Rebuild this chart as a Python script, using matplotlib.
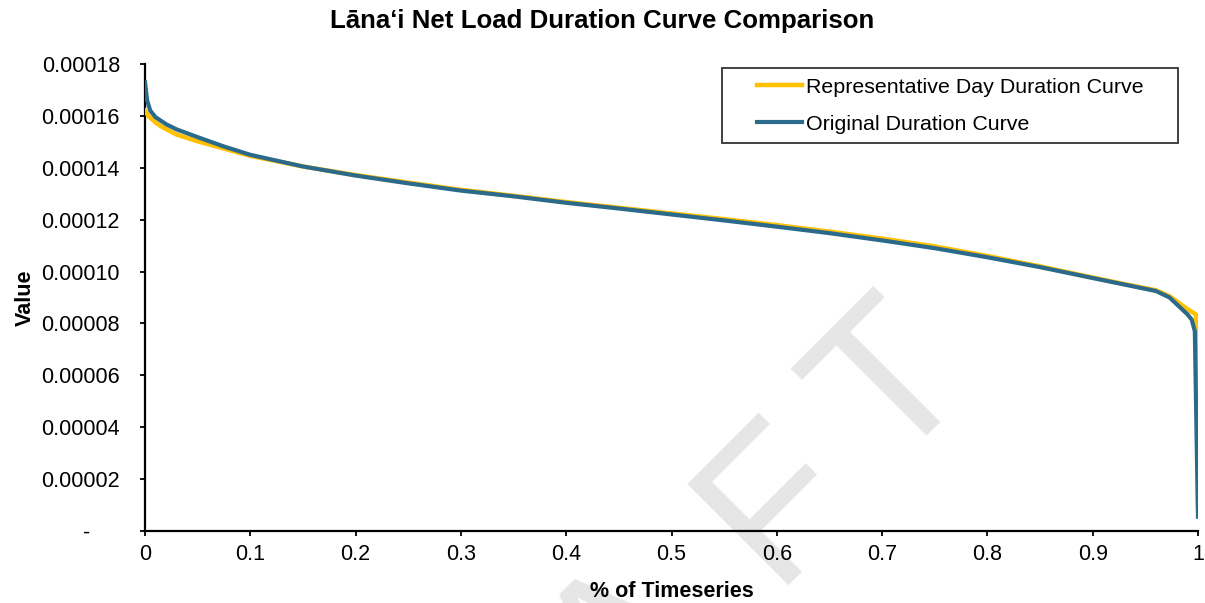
import matplotlib
matplotlib.use("Agg")
import matplotlib.pyplot as plt
from matplotlib.ticker import FixedLocator, FuncFormatter
from matplotlib.legend_handler import HandlerLine2D
from matplotlib.lines import Line2D

plt.rcParams['font.family'] = ['Liberation Sans', 'DejaVu Sans']

# Original duration curve
orig_x = [0.0, 0.002, 0.005, 0.01, 0.02, 0.03, 0.05, 0.075, 0.1, 0.15, 0.2, 0.25, 0.3,
          0.35, 0.4, 0.45, 0.5, 0.55, 0.6, 0.65, 0.7, 0.75, 0.8, 0.85, 0.9, 0.93, 0.96,
          0.973, 0.99, 0.994, 0.997, 0.9985, 1.0]
orig_y = [0.000173, 0.000166, 0.000162, 0.0001595, 0.0001568, 0.0001548, 0.0001518,
          0.0001482, 0.000145, 0.0001405, 0.000137, 0.000134, 0.0001312, 0.000129,
          0.0001265, 0.0001243, 0.000122, 0.0001197, 0.0001173, 0.0001148, 0.000112,
          0.000109, 0.0001055, 0.0001017, 0.0000975, 0.000095, 0.0000925, 0.00009,
          0.0000835, 0.0000815, 0.000077, 0.00004, 0.0000055]

# Representative day duration curve
rep_x = [0.0, 0.003, 0.01, 0.015, 0.03, 0.05, 0.075, 0.1, 0.15, 0.2, 0.25, 0.3, 0.35,
         0.4, 0.45, 0.5, 0.55, 0.6, 0.65, 0.7, 0.75, 0.8, 0.85, 0.9, 0.93, 0.96, 0.973,
         0.99, 0.998, 0.9995, 1.0]
rep_y = [0.000162, 0.00016, 0.0001575, 0.000156, 0.0001528, 0.0001502, 0.0001474,
         0.0001446, 0.0001405, 0.0001372, 0.0001343, 0.0001315, 0.0001292, 0.0001268,
         0.0001246, 0.0001224, 0.0001202, 0.0001179, 0.0001154, 0.0001127, 0.0001097,
         0.000106, 0.000102, 0.0000977, 0.0000952, 0.0000928, 0.0000905, 0.0000855,
         0.0000835, 0.00007, 0.00001]

y_ticks = [0, 0.00002, 0.00004, 0.00006, 0.00008, 0.00010, 0.00012, 0.00014, 0.00016, 0.00018]
x_ticks = [0, 0.1, 0.2, 0.3, 0.4, 0.5, 0.6, 0.7, 0.8, 0.9, 1]
watermark = "DRAFT"

W, H = 1205, 603
fig = plt.figure(figsize=(W / 100, H / 100), dpi=100)
ax = fig.add_axes([145 / W, 1 - 531 / H, (1198 - 145) / W, (531 - 64) / H])
ax.patch.set_alpha(0)

# watermark letters along a 45 degree baseline
offsets = [-590, -400, -215, 0, 163]
fx, fy = 772, 585
for ch, d in zip(watermark, offsets):
    px = fx + d * 0.7071
    py = fy - d * 0.7071
    fig.text(px / W, 1 - py / H, ch, rotation=45, rotation_mode='anchor',
             ha='left', va='baseline', fontsize=149, color='#e6e6e6', zorder=-1)

ax.plot(rep_x, rep_y, color='#FFC000', lw=3.2, label='Representative Day Duration Curve',
        solid_joinstyle='round', zorder=3)
ax.plot(orig_x, orig_y, color='#2C6A8B', lw=3.0, label='Original Duration Curve',
        solid_joinstyle='round', zorder=4)

ax.set_xlim(0, 1)
ax.set_ylim(0, 0.00018)
ax.yaxis.set_major_locator(FixedLocator(y_ticks))
ax.xaxis.set_major_locator(FixedLocator(x_ticks))
ax.yaxis.set_major_formatter(FuncFormatter(lambda v, p: '-     ' if v == 0 else f"{v:.5f}"))
ax.xaxis.set_major_formatter(FuncFormatter(lambda v, p: f"{v:g}"))

for s in ['top', 'right']:
    ax.spines[s].set_visible(False)
for s in ['left', 'bottom']:
    ax.spines[s].set_linewidth(1.6)
    ax.spines[s].set_color('black')
ax.tick_params(axis='both', direction='out', length=3.6, width=1.3, labelsize=15.5,
               colors='black')
ax.tick_params(axis='y', pad=14.4)
ax.tick_params(axis='x', pad=6)

ax.set_xlabel('% of Timeseries', fontsize=15.5, fontweight='bold', labelpad=11)
ax.set_ylabel('Value', fontsize=15.5, fontweight='bold', labelpad=4)
fig.text(0.5, 1 - 21 / H, 'Lāna‘i Net Load Duration Curve Comparison', ha='center',
         va='center', fontsize=18.6, fontweight='bold')

fs = 15.4
leg = ax.legend(loc='upper left',
                bbox_to_anchor=(722 / W, 1 - 140 / H, (1178 - 722) / W, 72 / H),
                bbox_transform=fig.transFigure, mode='expand', frameon=True,
                fancybox=False, fontsize=fs, handlelength=3.3, handletextpad=0.2,
                borderpad=0.45, labelspacing=0.85, borderaxespad=0,
                handler_map={Line2D: HandlerLine2D(xpad=1.2)})
leg.get_frame().set_edgecolor('black')
leg.get_frame().set_linewidth(1.3)

fig.savefig('out.png', dpi=100, facecolor='white')
